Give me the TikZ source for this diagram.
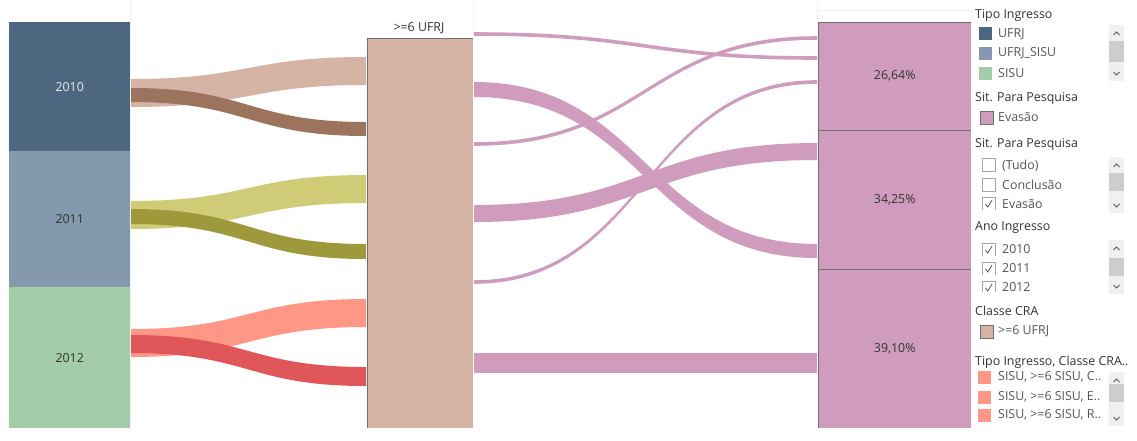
\documentclass[tikz,border=0pt]{standalone}
\usepackage{fontspec}
\setmainfont{Open Sans}
\definecolor{cA}{HTML}{4E6780}
\definecolor{cB}{HTML}{8499AE}
\definecolor{cC}{HTML}{A2CDA8}
\definecolor{beige}{HTML}{D5B3A5}
\definecolor{brown}{HTML}{9C745E}
\definecolor{olive}{HTML}{CFCB77}
\definecolor{dolive}{HTML}{9E9A3C}
\definecolor{salmon}{HTML}{FF9787}
\definecolor{red2}{HTML}{E05659}
\definecolor{pinkc}{HTML}{CF9CBD}
\definecolor{txt}{HTML}{333333}
\definecolor{itxt}{HTML}{555555}
\definecolor{bord}{HTML}{707070}
\definecolor{faint}{HTML}{F0F0F0}
\definecolor{thumb}{HTML}{CDCDCD}
\newcommand\sband[7]{\fill[#7] (#1,#2) .. controls ({(#1+#4)/2},#2) and ({(#1+#4)/2},#5) .. (#4,#5) -- (#4,#6) .. controls ({(#1+#4)/2},#6) and ({(#1+#4)/2},#3) .. (#1,#3) -- cycle;}
\newcommand\scrollbar[4]{%
  \fill[faint] (1109,#2) rectangle (1124,#3);
  \draw[txt!80,line width=0.9pt] (1113.5,{#2+10}) -- (1116.5,{#2+7}) -- (1119.5,{#2+10});
  \draw[txt!80,line width=0.9pt] (1113.5,{#3-9}) -- (1116.5,{#3-6}) -- (1119.5,{#3-9});
}
\newcommand\chk[2]{\draw[gray!70,line width=0.7pt] (982,{#1+13}) -- (982,#1) -- (995,#1) -- (995,{#1+13}); \ifnum#2=1 \draw[txt!85,line width=0.8pt] (985.5,{#1+7}) -- (987.8,{#1+10}) -- (992,{#1+3});\fi}
\begin{document}
\begin{tikzpicture}[x=1pt,y=-1pt,
  fnt/.style={font=\fontsize{12.4}{14}\selectfont},
  lbl/.style={fnt,text=txt,inner sep=0pt},
  item/.style={lbl,anchor=west},
  itm/.style={item,text=itxt},
  bar/.style={anchor=north west,inner sep=0pt,minimum width=121pt,fnt},
  sec/.style={anchor=north west,inner sep=0pt,minimum width=153pt,fill=pinkc,fnt,text=txt},
  sw/.style={anchor=north west,inner sep=0pt,minimum width=13pt,minimum height=13pt},
  bline/.style={draw=bord,line width=0.8pt}]
\useasboundingbox (0,0) rectangle (1137,440);
\fill[white] (0,0) rectangle (1137,440);
% faint pane lines
\draw[faint,line width=0.8pt] (130.5,0) -- (130.5,428);
\draw[faint,line width=0.8pt] (473.5,0) -- (473.5,38);
\draw[faint,line width=0.8pt] (817.5,0) -- (817.5,22);
\draw[faint,line width=0.8pt] (818,10) -- (970,10);
% left bars
\node[bar,fill=cA,minimum height=129pt,text=white!92!black] (y2010) at (9,22) {2010};
\node[bar,fill=cB,minimum height=136pt,text=txt] (y2011) at (9,151) {2011};
\node[bar,fill=cC,minimum height=141pt,text=txt] (y2012) at (9,287) {2012};
% middle box
\node[anchor=north west,inner sep=0pt,minimum width=106pt,minimum height=390pt,fill=beige] (cra) at (367,38) {};
\draw[bline] (cra.south west) -- (cra.north west) -- (cra.north east);
\node[lbl] (crat) at (419,28) {>=6 UFRJ};
% left bands
\sband{131}{79}{107}{366}{57}{85}{beige}
\sband{131}{88}{102}{366}{122}{136}{brown}
\sband{131}{201}{229}{366}{175}{203}{olive}
\sband{131}{209}{224}{366}{244}{259}{dolive}
\sband{131}{329}{357}{366}{299}{327}{salmon}
\sband{131}{335}{353}{366}{367}{386}{red2}
% right box
\node[sec,minimum height=108pt] (r1) at (818,22) {26,64\%};
\node[sec,minimum height=139pt] (r2) at (818,130) {34,25\%};
\node[sec,minimum height=159pt] (r3) at (818,269) {39,10\%};
\draw[bline] (r3.south west) -- (r1.north west) -- (r1.north east);
\draw[bline] (r2.north west) -- (r2.north east);
\draw[bline] (r3.north west) -- (r3.north east);
% right bands
\sband{474}{32.2}{35.8}{817}{56.2}{59.8}{pinkc}
\sband{474}{82}{97}{817}{244}{258}{pinkc}
\sband{474}{142.2}{145.8}{817}{36.2}{39.8}{pinkc}
\sband{474}{205}{222}{817}{143}{160}{pinkc}
\sband{474}{280.2}{283.8}{817}{80.2}{83.8}{pinkc}
\fill[pinkc] (474,353) rectangle (817,373);
% legend background
\fill[white] (972,0) rectangle (1137,440);
% Tipo Ingresso
\node[item] (t1) at (975,15) {Tipo Ingresso};
\scrollbar{0}{25}{81}{}
\fill[thumb] (1109,41) rectangle (1124,62);
\node[sw,fill=cA] (s1) at (979,27) {};
\node[itm] at (998,34) {UFRJ};
\node[sw,fill=cB] (s2) at (979,47) {};
\node[itm] at (998,53) {UFRJ\_SISU};
\node[sw,fill=cC] (s3) at (979,67) {};
\node[itm] at (998,73) {SISU};
% Sit para pesquisa
\node[item] (t2) at (975,98) {Sit. Para Pesquisa};
\node[sw,fill=pinkc,draw=bord,line width=0.7pt] (s4) at (979.5,110.5) {};
\node[itm] at (998,117) {Evasão};
% filter
\node[item] (t3) at (975,144) {Sit. Para Pesquisa};
\scrollbar{0}{157}{213}{}
\fill[thumb] (1109,173) rectangle (1124,191);
\draw[gray!70,line width=0.7pt] (982,158) rectangle (995,171);
\node[itm] at (1002,166) {(Tudo)};
\draw[gray!70,line width=0.7pt] (982,178) rectangle (995,191);
\node[itm] at (1002,185) {Conclusão};
\chk{197}{1}
\node[itm] at (1002,204) {Evasão};
% Ano
\node[item] (t4) at (975,228) {Ano Ingresso};
\scrollbar{0}{240}{294}{}
\fill[thumb] (1109,258) rectangle (1124,276);
\chk{243}{1}
\node[itm] at (1002,249) {2010};
\chk{262}{1}
\node[itm] at (1002,268) {2011};
\chk{281}{1}
\node[itm] at (1002,287) {2012};
\fill[white] (978,292) rectangle (1000,300);
% Classe CRA
\node[item] (t5) at (975,311) {Classe CRA};
\node[sw,fill=beige,draw=bord,line width=0.7pt] (s5) at (979.5,324.5) {};
\node[itm] at (998,331) {>=6 UFRJ};
% Tipo ingresso classe
\node[item] (t6) at (975,362) {Tipo Ingresso, Classe CRA..};
\scrollbar{0}{372}{426}{}
\fill[thumb] (1109,384) rectangle (1124,402);
\node[sw,fill=salmon] (s6) at (978,370.5) {};
\node[itm] at (998,377) {SISU, >=6 SISU, C..};
\node[sw,fill=salmon] (s7) at (978,390.5) {};
\node[itm] at (998,397) {SISU, >=6 SISU, E..};
\node[sw,fill=salmon] (s8) at (978,408.5) {};
\node[itm] at (998,415) {SISU, >=6 SISU, R..};
\end{tikzpicture}
\end{document}
